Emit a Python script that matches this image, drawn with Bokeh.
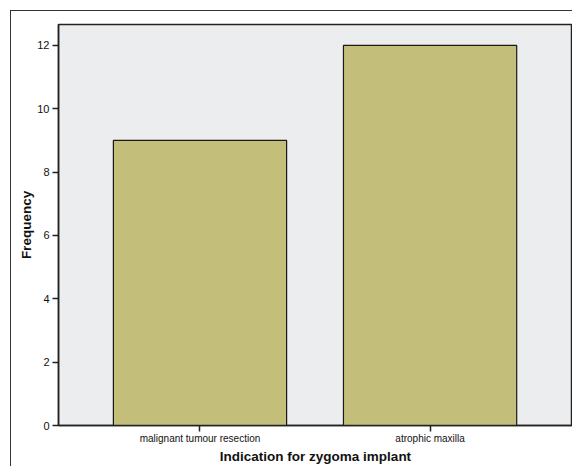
from bokeh.plotting import figure
from bokeh.models import Range1d, FixedTicker, ColumnDataSource
from bokeh.embed import file_html
from bokeh.resources import INLINE

categories = ["malignant tumour resection", "atrophic maxilla"]
frequency = [9, 12]
y_ticks = [0, 2, 4, 6, 8, 10, 12]
x_title = "Indication for zygoma implant"
y_title = "Frequency"

xpos = list(range(1, len(categories) + 1))
src = ColumnDataSource(dict(x=xpos, top=frequency))

p = figure(width=572, height=466, output_backend="svg", toolbar_location=None,
           x_range=Range1d(0.385, 2.619), y_range=Range1d(0, 12.66),
           min_border_left=58, min_border_right=0, min_border_top=24, min_border_bottom=41)

p.background_fill_color = "#ECEDEF"
p.border_fill_color = None
p.styles = {
    "background": "linear-gradient(#333,#333) 10px 10px / 600px 1px no-repeat, "
                  "linear-gradient(#333,#333) 10px 10px / 1px 600px no-repeat, white"
}
p.outline_line_color = "#222222"
p.outline_line_width = 1.5
p.grid.visible = False

p.vbar(x="x", top="top", width=0.753, bottom=0, source=src,
       fill_color="#C3BF7B", line_color="#1a1a1a", line_width=1.2)

font = "Liberation Sans"
p.yaxis.ticker = FixedTicker(ticks=y_ticks)
p.xaxis.ticker = FixedTicker(ticks=xpos)
p.xaxis.major_label_overrides = {x: c for x, c in zip(xpos, categories)}
for ax in (p.xaxis, p.yaxis):
    ax.axis_line_color = "#222222"
    ax.axis_line_width = 1.5
    ax.major_tick_line_color = "#222222"
    ax.major_tick_line_width = 1.5
    ax.major_tick_in = 0
    ax.major_tick_out = 6
    ax.minor_tick_line_color = None
    ax.major_label_text_font = font
    ax.major_label_text_color = "#111111"
    ax.axis_label_text_font = font
    ax.axis_label_text_font_style = "bold"
    ax.axis_label_text_font_size = "13.5px"
    ax.axis_label_text_color = "#111111"

p.yaxis.major_label_text_font_size = "11px"
p.yaxis.major_label_standoff = 3
p.xaxis.major_label_text_font_size = "10px"
p.xaxis.major_label_standoff = 1
p.yaxis.axis_label = y_title
p.yaxis.axis_label_standoff = 0
p.xaxis.axis_label = x_title
p.xaxis.axis_label_standoff = 2

open("out.html", "w").write(file_html(p, INLINE))
